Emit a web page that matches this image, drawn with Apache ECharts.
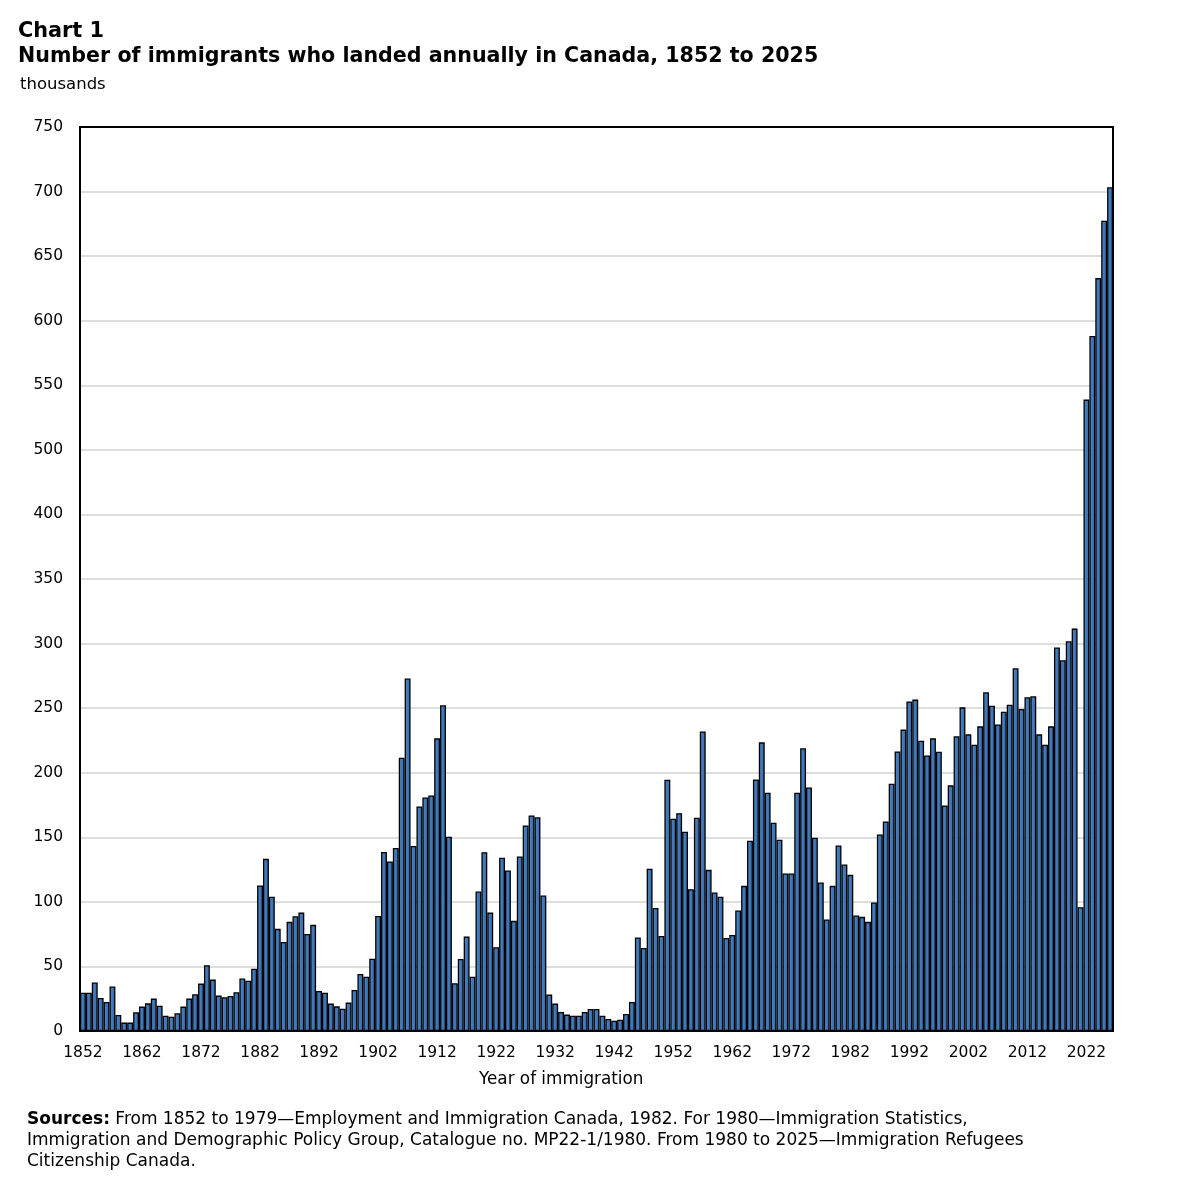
<!DOCTYPE html>
<html>
<head>
<meta charset="utf-8">
<script src="https://cdn.jsdelivr.net/npm/echarts@6/dist/echarts.min.js"></script>
<style>
  html, body { margin: 0; padding: 0; background: #fff; }
  #chart { width: 1181px; height: 1181px; }
</style>
</head>
<body>
<div id="chart"></div>
<script>
// Years shown on the category axis (one bar per year, as drawn in the reference)
const firstYear = 1852;
const immigrants = [
  29.7, 29.7, 37.5, 25.6, 22.5, 34.4, 12.4, 6.5, 6.5, 14.5,          // 1852-1861
  18.9, 21.4, 25.1, 19.6, 11.9, 11.1, 13.7, 18.9, 25.1, 28.4,        // 1862-1871
  36.7, 50.9, 39.8, 27.4, 26.1, 27.1, 30.0, 40.6, 39.0, 48.2,        // 1872-1881
  112.7, 133.3, 103.9, 79.1, 69.0, 84.5, 88.9, 91.7, 75.2, 82.2,     // 1882-1891
  31.0, 29.7, 21.2, 19.1, 17.3, 22.0, 31.8, 44.2, 42.1, 55.9,        // 1892-1901
  89.1, 138.7, 131.3, 141.8, 211.6, 272.9, 143.2, 173.9, 180.9, 182.4, // 1902-1911
  226.6, 252.2, 150.4, 37.0, 55.8, 73.1, 42.1, 108.0, 138.5, 91.7,   // 1912-1921
  64.9, 134.1, 124.3, 85.3, 135.1, 159.2, 166.9, 165.5, 104.9, 28.2, // 1922-1931
  21.2, 14.7, 12.7, 11.9, 11.9, 14.7, 17.1, 17.1, 11.9, 9.3,         // 1932-1941
  8.0, 8.8, 13.2, 22.5, 72.4, 64.3, 125.6, 95.3, 73.6, 194.6,        // 1942-1951
  164.3, 168.7, 154.3, 109.8, 165.1, 232.0, 124.8, 107.2, 104.0, 72.1, // 1952-1961
  74.3, 93.3, 112.4, 147.3, 194.8, 223.5, 184.5, 161.2, 148.1, 122.0, // 1962-1971
  122.0, 184.5, 218.9, 188.6, 149.6, 115.0, 86.3, 112.4, 143.7, 128.9, // 1972-1981
  120.9, 89.4, 88.4, 84.5, 99.5, 152.2, 162.3, 191.5, 216.5, 233.4,  // 1982-1991
  255.2, 256.6, 224.8, 213.4, 226.6, 216.3, 174.7, 190.2, 228.2, 250.6, // 1992-2001
  229.7, 221.7, 235.9, 262.3, 251.9, 237.4, 247.3, 252.7, 280.9, 249.4, // 2002-2011
  258.4, 259.2, 229.7, 221.7, 235.9, 296.9, 287.1, 301.8, 311.6, 95.9,  // 2012-2021
  488.9, 538.2, 583.0, 627.4, 653.3                                    // 2022-2026
];
const years = immigrants.map((_, i) => String(firstYear + i));
// Y tick labels exactly as printed on the reference (note: no "450")
const yTickLabels = ['0','50','100','150','200','250','300','350','400','500','550','600','650','700','750'];

const chart = echarts.init(document.getElementById('chart'), null, { renderer: 'canvas' });
const FONT = '"DejaVu Sans", Verdana, sans-serif';

chart.setOption({
  animation: false,
  backgroundColor: '#ffffff',
  textStyle: { fontFamily: FONT, color: '#000' },
  title: [
    { text: 'Chart 1', left: 18, top: 21, padding: 0,
      textStyle: { fontFamily: FONT, fontSize: 20.8, fontWeight: 'bold', color: '#000' } },
    { text: 'Number of immigrants who landed annually in Canada, 1852 to 2025', left: 18, top: 46, padding: 0,
      textStyle: { fontFamily: FONT, fontSize: 20.6, fontWeight: 'bold', color: '#000' } },
    { text: 'thousands', left: 20, top: 76, padding: 0,
      textStyle: { fontFamily: FONT, fontSize: 16.5, fontWeight: 'normal', color: '#000' } },
    { text: 'Year of immigration', left: 479, top: 1071, padding: 0,
      textStyle: { fontFamily: FONT, fontSize: 16.8, fontWeight: 'normal', color: '#000' } },
    { text: '{b|Sources:} From 1852 to 1979\u2014Employment and Immigration Canada, 1982. For 1980\u2014Immigration Statistics,\nImmigration and Demographic Policy Group, Catalogue no. MP22-1/1980. From 1980 to 2025\u2014Immigration Refugees\nCitizenship Canada.',
      left: 27, top: 1109, padding: 0,
      textStyle: { fontFamily: FONT, fontSize: 17, fontWeight: 'normal', color: '#000', lineHeight: 21,
        rich: { b: { fontFamily: FONT, fontSize: 17, fontWeight: 'bold', color: '#000', lineHeight: 21 } } } }
  ],
  grid: {
    left: 80, top: 127, right: 68, bottom: 150,
    show: true, borderColor: '#000', borderWidth: 2, backgroundColor: 'transparent'
  },
  xAxis: {
    type: 'category',
    data: years,
    boundaryGap: true,
    axisLine: { show: true, lineStyle: { color: '#000', width: 2 } },
    axisTick: { show: false },
    axisLabel: { interval: 9, fontFamily: FONT, fontSize: 15.5, color: '#000', margin: 14 },
    splitLine: { show: false }
  },
  yAxis: {
    type: 'value',
    min: 0, max: 700, interval: 50,
    axisLine: { show: true, lineStyle: { color: '#000', width: 2 } },
    axisTick: { show: false },
    axisLabel: {
      fontFamily: FONT, fontSize: 15.5, color: '#000', margin: 17,
      formatter: v => yTickLabels[Math.round(v / 50)]
    },
    splitLine: { show: true, showMaxLine: false, showMinLine: false, lineStyle: { color: '#d3d3d3', width: 1.5 } }
  },
  series: [{
    type: 'bar',
    data: immigrants,
    barCategoryGap: '0%',
    itemStyle: {
      color: new echarts.graphic.LinearGradient(0, 0, 1, 0, [
        { offset: 0, color: '#5089cb' },
        { offset: 1, color: '#3166a8' }
      ]),
      borderColor: '#000',
      borderWidth: 1.3
    }
  }]
});
</script>
</body>
</html>
